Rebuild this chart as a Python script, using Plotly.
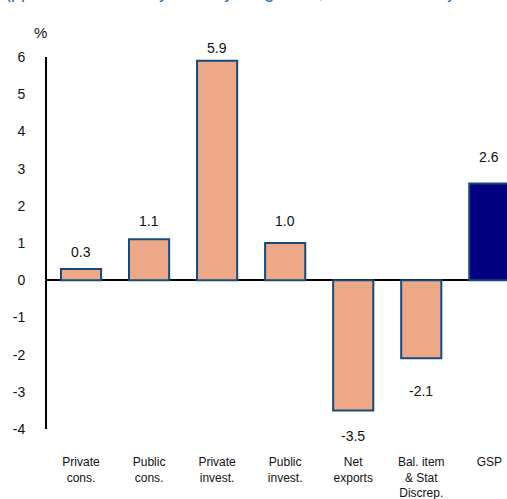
import plotly.graph_objects as go

# === Data ===
categories = ["Private<br>cons.", "Public<br>cons.", "Private<br>invest.", "Public<br>invest.",
              "Net<br>exports", "Bal. item<br>& Stat<br>Discrep.", "GSP"]
values = [0.3, 1.1, 5.9, 1.0, -3.5, -2.1, 2.6]
label_text = ["0.3", "1.1", "5.9", "1.0", "-3.5", "-2.1", "2.6"]
y_ticks = [-4, -3, -2, -1, 0, 1, 2, 3, 4, 5, 6]
y_tick_text = ["-4", "-3", "-2", "-1", "0", "1", "2", "3", "4", "5", "6"]

# === Styling ===
peach = "#EDA987"
navy = "#000080"
bar_colors = [peach] * 6 + [navy]
# pixel offsets of the value labels from the bar ends
label_shift = [17, 18, 13, 22, -26, -33, 26]

x_pos = list(range(len(categories)))

fig = go.Figure()
fig.add_trace(go.Bar(
    x=x_pos, y=values,
    marker=dict(color=bar_colors, line=dict(color="#174A78", width=2)),
    hoverinfo="skip",
))

for xi, v, t, s in zip(x_pos, values, label_text, label_shift):
    fig.add_annotation(x=xi, y=v, text=t, showarrow=False, yshift=s,
                       font=dict(size=14, color="#111111"))

# unit label above the axis
fig.add_annotation(text="%", xref="paper", yref="paper", x=0, y=1,
                   xanchor="center", yanchor="middle", xshift=-7, yshift=25,
                   showarrow=False, font=dict(size=15, color="#111111"))

# title, mostly cut off by the top edge
fig.add_annotation(text="(ppt contribution to year on year growth, in real trend adjusted terms)",
                   xref="paper", yref="paper", x=0, y=1, xanchor="left", yanchor="middle",
                   xshift=-44, yshift=65, showarrow=False,
                   font=dict(size=18, color="#2F6CA8"))

fig.update_layout(
    width=507, height=499,
    margin=dict(l=47, r=0, t=57, b=70),
    paper_bgcolor="white", plot_bgcolor="white",
    font=dict(family="Liberation Sans, Arial, sans-serif", color="#111111"),
    bargap=0.41,
    showlegend=False,
    xaxis=dict(
        tickvals=x_pos, ticktext=categories, range=[-0.5, 6.26],
        showgrid=False, zeroline=False, showline=False, ticks="",
        tickfont=dict(size=12), ticklabelstandoff=24,
    ),
    yaxis=dict(
        range=[-4, 6], tickvals=y_ticks, ticktext=y_tick_text, showgrid=False,
        zeroline=True, zerolinecolor="black", zerolinewidth=2,
        showline=True, linecolor="black", linewidth=2, ticks="",
        tickfont=dict(size=14), ticklabelstandoff=17,
    ),
)

fig.write_html("out.html", config={"displayModeBar": False},
               post_script="document.body.style.margin='0';")
